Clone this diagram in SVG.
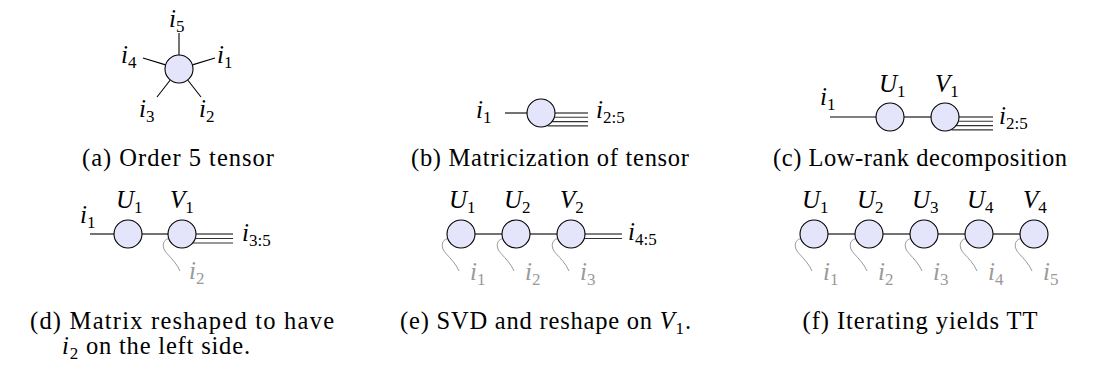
<svg xmlns="http://www.w3.org/2000/svg" xmlns:xlink="http://www.w3.org/1999/xlink" width="1094" height="369" viewBox="0 0 1094 369">
<style>
.node{fill:#e4e4fb;stroke:#000;stroke-width:1.1}
.e{stroke:#000;stroke-width:1.1;fill:none}
.b{stroke:#333;stroke-width:1.1;fill:none}
.w{stroke:#999;stroke-width:1;fill:none}
.m{font-family:"Liberation Serif",serif;font-style:italic;font-size:25px;fill:#000}
.s{font-style:normal;font-size:17px}
.g{fill:#999}
.cap{font-family:"Liberation Serif",serif;font-size:24.5px;fill:#000}
.ci{font-style:italic}
</style>
<defs>
<path id="wig" class="w" d="M-13.3,4.5 C-20,6 -20.5,14 -15,19.5 C-10,25 -5,30 -2,37"/>
</defs>
<rect width="1094" height="369" fill="#fff"/>
<g id="edges">
<line class="e" x1="179" y1="55" x2="179" y2="33"/>
<line class="e" x1="165.6" y1="64.9" x2="143" y2="58"/>
<line class="e" x1="192.4" y1="64.9" x2="215" y2="58"/>
<line class="e" x1="170.3" y1="80" x2="157" y2="97"/>
<line class="e" x1="187.7" y1="80" x2="201" y2="97"/>
<line class="e" x1="505" y1="113" x2="527" y2="113"/>
<line class="e" x1="555" y1="113" x2="588" y2="113"/>
<line class="b" x1="554.3" y1="117.3" x2="588" y2="117.3"/>
<line class="b" x1="552.2" y1="121.6" x2="588" y2="121.6"/>
<line class="b" x1="547.5" y1="125.9" x2="588" y2="125.9"/>
<line class="e" x1="830" y1="117" x2="876" y2="117"/>
<line class="e" x1="904" y1="117" x2="931" y2="117"/>
<line class="e" x1="959" y1="117" x2="993" y2="117"/>
<line class="b" x1="958.3" y1="121.3" x2="993" y2="121.3"/>
<line class="b" x1="956.2" y1="125.6" x2="993" y2="125.6"/>
<line class="b" x1="951.5" y1="129.9" x2="993" y2="129.9"/>
<line class="e" x1="90" y1="234" x2="114" y2="234"/>
<line class="e" x1="142" y1="234" x2="168" y2="234"/>
<line class="e" x1="196" y1="234" x2="233" y2="234"/>
<line class="b" x1="195.3" y1="238.5" x2="233" y2="238.5"/>
<line class="b" x1="192.8" y1="243" x2="233" y2="243"/>
<use xlink:href="#wig" x="182" y="234"/>
<line class="e" x1="475" y1="234" x2="502" y2="234"/>
<line class="e" x1="530" y1="234" x2="557" y2="234"/>
<line class="e" x1="585" y1="234" x2="622" y2="234"/>
<line class="b" x1="584.3" y1="238.5" x2="622" y2="238.5"/>
<use xlink:href="#wig" x="461" y="234"/>
<use xlink:href="#wig" x="516" y="234"/>
<use xlink:href="#wig" x="571" y="234"/>
<line class="e" x1="828" y1="234" x2="855" y2="234"/>
<line class="e" x1="883" y1="234" x2="910" y2="234"/>
<line class="e" x1="938" y1="234" x2="965" y2="234"/>
<line class="e" x1="993" y1="234" x2="1020" y2="234"/>
<use xlink:href="#wig" x="814" y="234"/>
<use xlink:href="#wig" x="869" y="234"/>
<use xlink:href="#wig" x="924" y="234"/>
<use xlink:href="#wig" x="979" y="234"/>
<use xlink:href="#wig" x="1034" y="234"/>
</g>
<g id="sub-a">
<circle class="node" cx="179" cy="69" r="14"/>
<text class="m" x="169" y="27">i<tspan class="s" dy="5">5</tspan></text>
<text class="m" x="121" y="63">i<tspan class="s" dy="5">4</tspan></text>
<text class="m" x="217" y="63">i<tspan class="s" dy="5">1</tspan></text>
<text class="m" x="139" y="117">i<tspan class="s" dy="5">3</tspan></text>
<text class="m" x="199" y="117">i<tspan class="s" dy="5">2</tspan></text>
<text class="cap" x="178" y="166" text-anchor="middle" textLength="192">(a) Order 5 tensor</text>
</g>
<g id="sub-b">
<circle class="node" cx="541" cy="113" r="14"/>
<text class="m" x="476" y="118">i<tspan class="s" dy="5">1</tspan></text>
<text class="m" x="596" y="118">i<tspan class="s" dy="5">2:5</tspan></text>
<text class="cap" x="550" y="166" text-anchor="middle" textLength="278">(b) Matricization of tensor</text>
</g>
<g id="sub-c">
<circle class="node" cx="890" cy="117" r="14"/>
<circle class="node" cx="945" cy="117" r="14"/>
<text class="m" x="820" y="105">i<tspan class="s" dy="5">1</tspan></text>
<text class="m" x="879" y="92">U<tspan class="s" dy="5">1</tspan></text>
<text class="m" x="935" y="92">V<tspan class="s" dy="5">1</tspan></text>
<text class="m" x="999" y="124">i<tspan class="s" dy="5">2:5</tspan></text>
<text class="cap" x="920" y="166" text-anchor="middle" textLength="294">(c) Low-rank decomposition</text>
</g>
<g id="sub-d">
<circle class="node" cx="128" cy="234" r="14"/>
<circle class="node" cx="182" cy="234" r="14"/>
<text class="m" x="80" y="223">i<tspan class="s" dy="5">1</tspan></text>
<text class="m" x="116" y="208">U<tspan class="s" dy="5">1</tspan></text>
<text class="m" x="170" y="208">V<tspan class="s" dy="5">1</tspan></text>
<text class="m" x="242" y="241">i<tspan class="s" dy="5">3:5</tspan></text>
<text class="m g" x="189" y="279">i<tspan class="s" dy="5">2</tspan></text>
<text class="cap" x="30" y="329" textLength="304">(d) Matrix reshaped to have</text>
<text class="cap" x="62" y="354" textLength="188"><tspan class="ci">i</tspan><tspan class="s" dy="5">2</tspan><tspan dy="-5"> on the left side.</tspan></text>
</g>
<g id="sub-e">
<circle class="node" cx="461" cy="234" r="14"/>
<circle class="node" cx="516" cy="234" r="14"/>
<circle class="node" cx="571" cy="234" r="14"/>
<text class="m" x="449" y="208">U<tspan class="s" dy="5">1</tspan></text>
<text class="m" x="504" y="208">U<tspan class="s" dy="5">2</tspan></text>
<text class="m" x="560" y="208">V<tspan class="s" dy="5">2</tspan></text>
<text class="m" x="628" y="240">i<tspan class="s" dy="5">4:5</tspan></text>
<text class="m g" x="470" y="280">i<tspan class="s" dy="5">1</tspan></text>
<text class="m g" x="525" y="280">i<tspan class="s" dy="5">2</tspan></text>
<text class="m g" x="580" y="280">i<tspan class="s" dy="5">3</tspan></text>
<text class="cap" x="400" y="329" textLength="291">(e) SVD and reshape on <tspan class="ci">V</tspan><tspan class="s" dy="5">1</tspan><tspan dy="-5">.</tspan></text>
</g>
<g id="sub-f">
<circle class="node" cx="814" cy="234" r="14"/>
<circle class="node" cx="869" cy="234" r="14"/>
<circle class="node" cx="924" cy="234" r="14"/>
<circle class="node" cx="979" cy="234" r="14"/>
<circle class="node" cx="1034" cy="234" r="14"/>
<text class="m" x="802" y="208">U<tspan class="s" dy="5">1</tspan></text>
<text class="m" x="857" y="208">U<tspan class="s" dy="5">2</tspan></text>
<text class="m" x="912" y="208">U<tspan class="s" dy="5">3</tspan></text>
<text class="m" x="967" y="208">U<tspan class="s" dy="5">4</tspan></text>
<text class="m" x="1023" y="208">V<tspan class="s" dy="5">4</tspan></text>
<text class="m g" x="823" y="280">i<tspan class="s" dy="5">1</tspan></text>
<text class="m g" x="878" y="280">i<tspan class="s" dy="5">2</tspan></text>
<text class="m g" x="933" y="280">i<tspan class="s" dy="5">3</tspan></text>
<text class="m g" x="988" y="280">i<tspan class="s" dy="5">4</tspan></text>
<text class="m g" x="1043" y="280">i<tspan class="s" dy="5">5</tspan></text>
<text class="cap" x="920" y="329" text-anchor="middle" textLength="235">(f) Iterating yields TT</text>
</g>
</svg>
